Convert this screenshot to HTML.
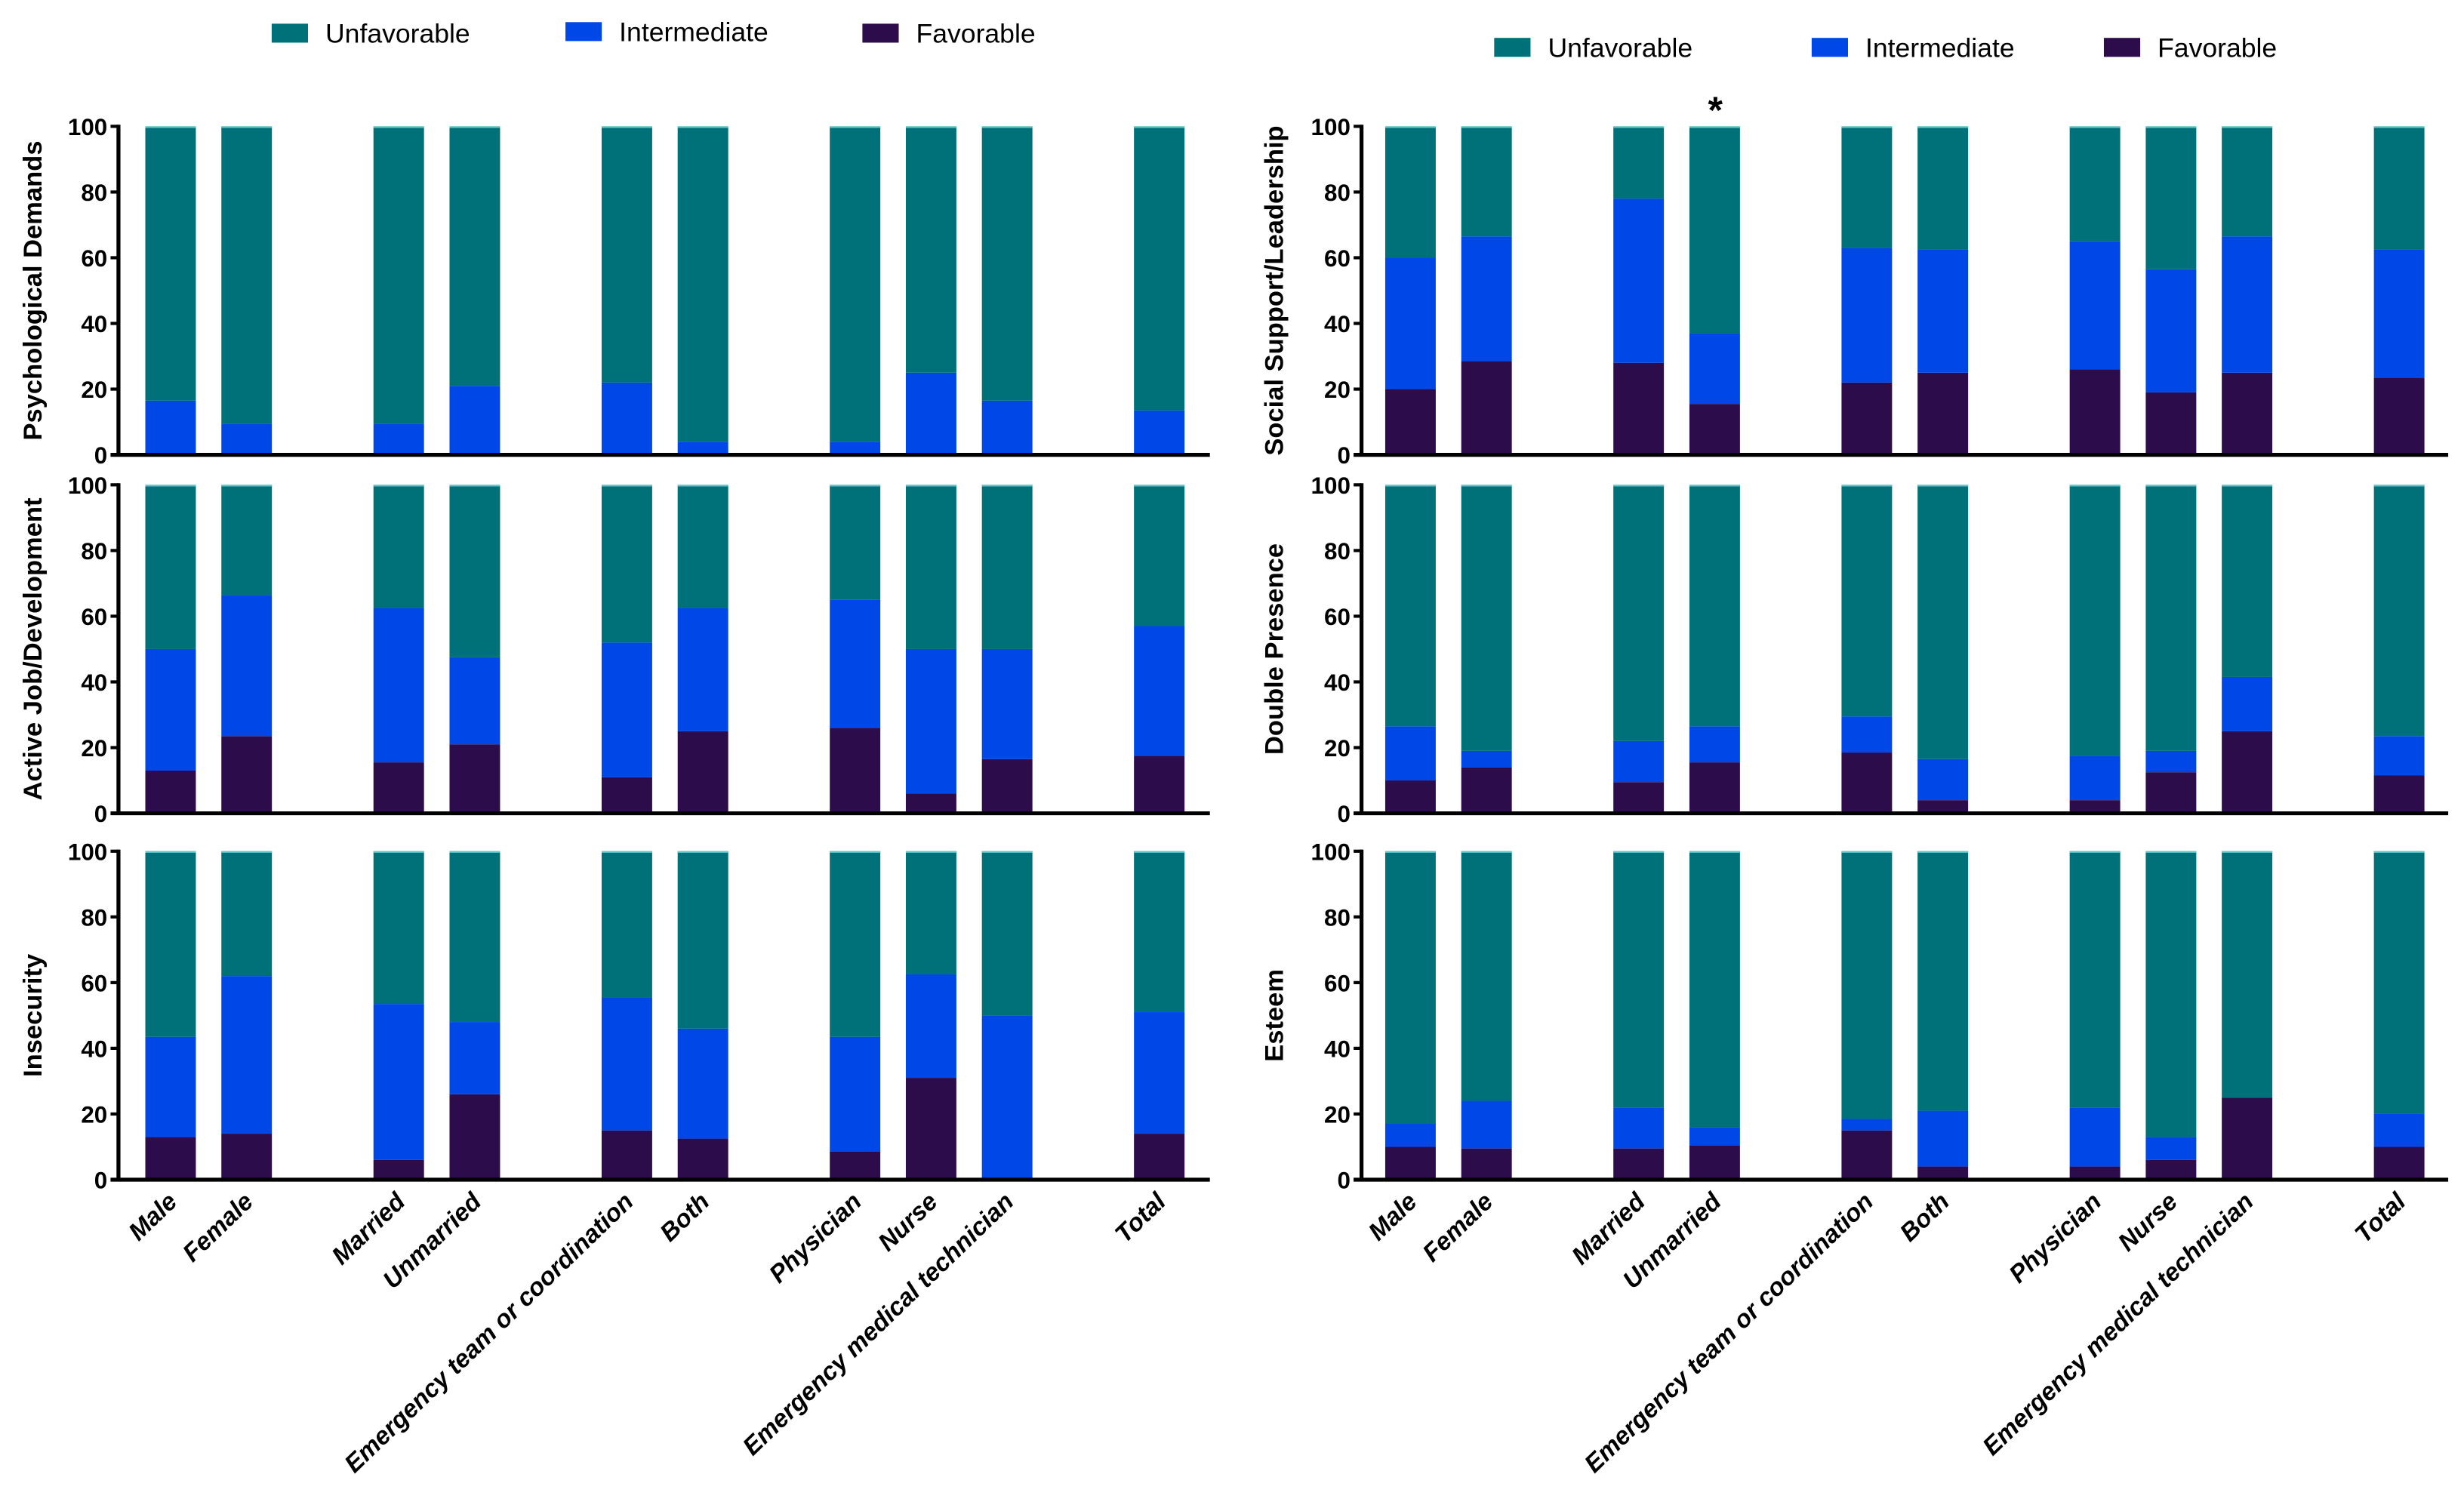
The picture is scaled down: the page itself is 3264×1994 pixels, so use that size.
<!DOCTYPE html>
<html><head><meta charset="utf-8"><style>
html,body{margin:0;padding:0;background:#fff;}
svg{display:block;}
text{font-family:"Liberation Sans",Arial,sans-serif;fill:#000;}
</style></head><body>
<svg id="chart" width="3264" height="1994" viewBox="0 0 1560 953" preserveAspectRatio="none" xmlns="http://www.w3.org/2000/svg">
<g>
 <rect x="172" y="15" width="23" height="12" fill="#007079"/>
 <text x="206" y="27" font-size="17">Unfavorable</text>
 <rect x="358" y="14" width="23" height="12" fill="#0047e8"/>
 <text x="392" y="26" font-size="17">Intermediate</text>
 <rect x="546" y="15" width="23" height="12" fill="#2d0c4b"/>
 <text x="580" y="27" font-size="17">Favorable</text>
</g>
<g>
 <rect x="946" y="24" width="23" height="12" fill="#007079"/>
 <text x="980" y="36" font-size="17">Unfavorable</text>
 <rect x="1147" y="24" width="23" height="12" fill="#0047e8"/>
 <text x="1181" y="36" font-size="17">Intermediate</text>
 <rect x="1332" y="24" width="23" height="12" fill="#2d0c4b"/>
 <text x="1366" y="36" font-size="17">Favorable</text>
</g>
<text x="1086" y="78" font-size="24" font-weight="bold" text-anchor="middle">*</text>
</svg>
<script>
const categories = ["Male","Female","Married","Unmarried","Emergency team or coordination","Both","Physician","Nurse","Emergency medical technician","Total"];
const slots = [0,1,3,4,6,7,9,10,11,13];
const yTicks = [0,20,40,60,80,100];
const panelTitles = ["Psychological Demands","Active Job/Development","Insecurity","Social Support/Leadership","Double Presence","Esteem"];
// favorable segment
const favPsych   = [0,0,0,0,0,0,0,0,0,0];
const favActive  = [13,23.5,15.5,21,11,25,26,6,16.5,17.5];
const favInsec   = [13,14,6,26,15,12.5,8.5,31,0,14];
const favSocial  = [20,28.5,28,15.5,22,25,26,19,25,23.5];
const favDouble  = [10,14,9.5,15.5,18.5,4,4,12.5,25,11.5];
const favEsteem  = [10,9.5,9.5,10.5,15,4,4,6,25,10];
// intermediate segment
const intPsych   = [16.5,9.5,9.5,21,22,4,4,25,16.5,13.5];
const intActive  = [37,43,47,26.5,41,37.5,39,44,33.5,39.5];
const intInsec   = [30.5,48,47.5,22,40.5,33.5,35,31.5,50,37];
const intSocial  = [40,38,50,21.5,41,37.5,39,37.5,41.5,39];
const intDouble  = [16.5,5,12.5,11,11,12.5,13.5,6.5,16.5,12];
const intEsteem  = [7,14.5,12.5,5.5,3.5,17,18,7,0,10];

const favs=[favPsych,favActive,favInsec,favSocial,favDouble,favEsteem];
const ints=[intPsych,intActive,intInsec,intSocial,intDouble,intEsteem];
const svg=document.getElementById('chart');
const NS='http://www.w3.org/2000/svg';
function mk(tag,attrs,parent){const e=document.createElementNS(NS,tag);for(const k in attrs)e.setAttribute(k,attrs[k]);parent.appendChild(e);return e;}
const cols=[{axisX:75,x0:108,end:766,titleX:22},{axisX:862,x0:893,end:1550,titleX:808}];
const rows=[{top:80,bot:288},{top:307,bot:515},{top:539,bot:747}];
const pitch=48.15, bw=32;
for(let p=0;p<6;p++){
  const c=cols[Math.floor(p/3)], r=rows[p%3];
  const g=mk('g',{},svg);
  
  
  const yS=v=>r.bot-(r.bot-r.top)*v/100;
  const xS=i=>c.x0+slots[i]*pitch;
  for(let i=0;i<categories.length;i++){
    const f=favs[p][i], m=ints[p][i];
    const segs=[[0,f,'#2d0c4b','favorable'],[f,f+m,'#0047e8','intermediate'],[f+m,100,'#007079','unfavorable']];
    for(const s of segs){
      if(s[1]-s[0]<=0)continue;
      const rc=mk('rect',{x:xS(i)-bw/2,y:yS(s[1]),width:bw,height:yS(s[0])-yS(s[1]),fill:s[2]},g);
      
      
    }
    const tl=mk('line',{x1:xS(i)-bw/2,x2:xS(i)+bw/2,y1:yS(100)+0.5,y2:yS(100)+0.5,stroke:'#5fc8cc','stroke-width':1},g);
    
    
  }
  const ya=mk('line',{x1:c.axisX,x2:c.axisX,y1:r.top-1,y2:r.bot+1,stroke:'#000','stroke-width':2.5},g);
  
  
  const xa=mk('line',{x1:c.axisX-5,x2:c.end,y1:r.bot,y2:r.bot,stroke:'#000','stroke-width':2.5},g);
  
  
  for(const t of yTicks){
    const tk=mk('line',{x1:c.axisX-5,x2:c.axisX,y1:yS(t),y2:yS(t),stroke:'#000','stroke-width':2},g);
    
    
    const tx=mk('text',{x:c.axisX-7,y:yS(t)+5.5,'font-size':15,'font-weight':'bold','text-anchor':'end'},g);
    tx.textContent=t;
    
    
  }
  const cy=(r.top+r.bot)/2;
  const tt=mk('text',{x:c.titleX,y:cy,'font-size':16.5,'font-weight':'bold','text-anchor':'middle',transform:`rotate(-90 ${c.titleX} ${cy})`,'dominant-baseline':'middle'},g);
  tt.textContent=panelTitles[p];
  
  
  if(p%3===2){
    for(let i=0;i<categories.length;i++){
      const ax=xS(i)+5, ay=762;
      const lb=mk('text',{x:ax,y:ay,'font-size':15.8,'font-weight':'bold','font-style':'italic','text-anchor':'end',transform:`rotate(-44 ${ax} ${ay})`},g);
      lb.textContent=categories[i];
      
      
    }
  }
}
</script>
</body></html>
